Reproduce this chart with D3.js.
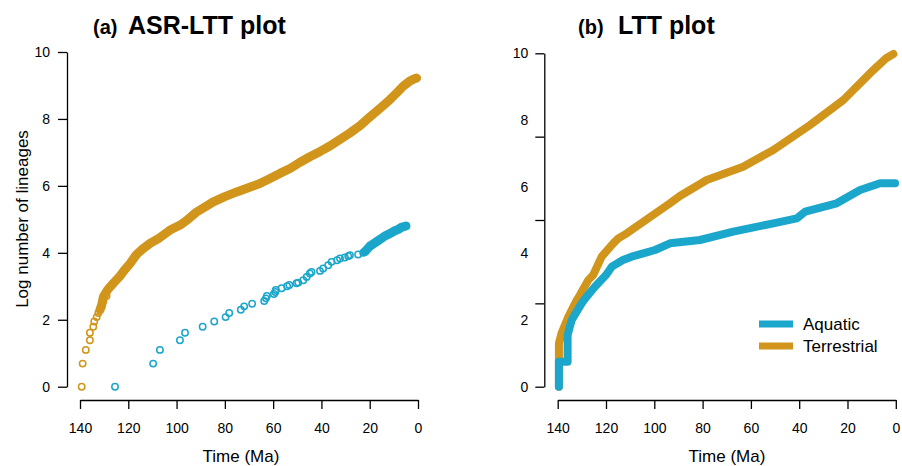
<!DOCTYPE html>
<html>
<head>
<meta charset="utf-8">
<script src="https://cdn.jsdelivr.net/npm/d3@7"></script>
<style>
  html, body { margin: 0; padding: 0; background: #fff; }
</style>
</head>
<body>
<div id="chart"></div>
<script>
// ticks
const ageTicks = [140, 120, 100, 80, 60, 40, 20, 0];
const logTicks = [0, 2, 4, 6, 8, 10];
const lttTickMarks = [0, 2.5, 5, 7.5, 10];
const legendLabels = ["Aquatic", "Terrestrial"];

// (a) ASR-LTT: terrestrial, single points then the dense run
const asrTerrTime = [139.3, 138.9, 137.6, 135.9, 135.9, 134.5, 134.1, 133.1, 132.4, 131.7, 131.0, 130.3, 129.0];
const asrTerrLog = [0, 0.69, 1.10, 1.39, 1.61, 1.79, 1.95, 2.08, 2.20, 2.30, 2.40, 2.56, 2.71];
const asrTerrBandTime = [131.7, 131.0, 130.3, 128.5, 126.2, 123.5, 121.4, 119.3, 116.6, 114.0, 111.0, 107.0, 102.7, 98.5, 95.8, 91.7, 88.0, 84.8, 80.0, 75.1, 70.0, 65.5, 61.3, 57.0, 53.0, 49.0, 44.8, 40.5, 36.5, 32.5, 28.2, 24.0, 19.9, 15.5, 11.6, 8.5, 6.1, 3.4, 1.5, 0.6];
const asrTerrBandLog = [2.30, 2.45, 2.69, 2.90, 3.09, 3.30, 3.50, 3.68, 3.95, 4.12, 4.28, 4.45, 4.68, 4.83, 4.97, 5.22, 5.38, 5.52, 5.68, 5.82, 5.95, 6.07, 6.22, 6.38, 6.52, 6.70, 6.87, 7.03, 7.19, 7.38, 7.58, 7.80, 8.06, 8.33, 8.58, 8.80, 8.98, 9.13, 9.20, 9.22];

// (a) ASR-LTT: aquatic
const asrAquaTime = [125.5, 109.7, 106.9, 98.6, 96.5, 89.2, 84.4, 79.7, 78.2, 73.4, 72.0, 68.7, 63.7, 63.0, 62.6, 59.7, 59.1, 58.9, 56.5, 54.2, 53.3, 50.3, 49.6, 47.5, 46.1, 44.8, 44.1, 40.6, 39.3, 37.2, 35.8, 33.5, 32.3, 30.3, 28.9, 28.2, 24.8, 22.7, 22.0, 19.9, 17.8, 15.8, 13.7, 11.6, 9.6, 8.2, 6.9, 5.0];
const asrAquaLog = [0, 0.69, 1.10, 1.39, 1.61, 1.79, 1.95, 2.08, 2.20, 2.30, 2.40, 2.48, 2.56, 2.64, 2.71, 2.77, 2.83, 2.89, 2.94, 3.00, 3.04, 3.09, 3.11, 3.18, 3.28, 3.38, 3.43, 3.46, 3.53, 3.63, 3.73, 3.78, 3.83, 3.86, 3.90, 3.93, 3.95, 4.00, 4.03, 4.20, 4.30, 4.40, 4.50, 4.58, 4.66, 4.70, 4.76, 4.80];
const asrAquaBandTime = [22.0, 19.9, 17.8, 15.8, 13.7, 11.6, 9.6, 8.2, 6.9, 5.0];
const asrAquaBandLog = [4.03, 4.20, 4.30, 4.40, 4.50, 4.58, 4.66, 4.70, 4.76, 4.80];

// (b) LTT
const lttTerrTime = [139.5, 139.5, 138.4, 135.6, 132.1, 130.8, 127.3, 125.3, 121.8, 117.0, 114.9, 111.4, 103.5, 93.5, 89.4, 78.3, 63.2, 50.7, 35.5, 21.7, 10.7, 4.0, 1.0];
const lttTerrLog = [0, 1.3, 1.6, 2.1, 2.6, 2.75, 3.2, 3.35, 3.9, 4.3, 4.45, 4.6, 5.0, 5.5, 5.72, 6.2, 6.6, 7.1, 7.85, 8.6, 9.4, 9.85, 9.98];
const lttAquaTime = [139.5, 139.5, 135.9, 135.9, 134.2, 130.1, 128.0, 124.6, 120.0, 117.6, 113.0, 109.4, 104.6, 99.7, 93.5, 81.1, 67.3, 50.7, 41.0, 37.5, 24.5, 14.8, 6.5, 0.3];
const lttAquaLog = [0, 0.75, 0.75, 1.55, 2.0, 2.5, 2.7, 3.0, 3.35, 3.6, 3.8, 3.9, 4.0, 4.1, 4.3, 4.4, 4.65, 4.9, 5.05, 5.25, 5.5, 5.9, 6.1, 6.1];

const colAqua = "#1ba6cb";
const colTerr = "#d0951a";
const FONT = "'Liberation Sans', Arial, Helvetica, sans-serif";

const width = 902;
const height = 466;

const xL = d3.scaleLinear().domain([140, 0]).range([80, 418]);
const yL = d3.scaleLinear().domain([0, 10]).range([386.7, 52]);
const xR = d3.scaleLinear().domain([140, 0]).range([557.7, 895.8]);
const yR = d3.scaleLinear().domain([0, 10]).range([386.7, 53.3]);

const svg = d3.select("#chart").append("svg")
    .attr("width", width)
    .attr("height", height)
    .style("font-family", FONT);

const styleAxis = g => {
    g.attr("font-size", 14).attr("font-family", FONT);
    g.selectAll("text").attr("fill", "#000");
    g.selectAll("line, path").attr("stroke", "#000").attr("stroke-width", 1.3);
};

const drawXAxis = x => {
    svg.append("g")
        .attr("transform", "translate(0,400)")
        .call(d3.axisBottom(x).tickValues(ageTicks).tickSize(9).tickPadding(14).tickSizeOuter(0))
        .call(styleAxis);
};

drawXAxis(xL);
drawXAxis(xR);

// left y axis
svg.append("g")
    .attr("transform", "translate(67,0)")
    .call(d3.axisLeft(yL).tickValues(logTicks).tickSize(9).tickPadding(8).tickSizeOuter(0))
    .call(styleAxis);

// right y axis: marks and labels do not sit at the same values
svg.append("g")
    .attr("transform", "translate(544.3,0)")
    .call(d3.axisLeft(yR).tickValues(lttTickMarks).tickSize(9).tickFormat("").tickSizeOuter(0))
    .call(styleAxis);
svg.append("g")
    .attr("transform", "translate(544.3,0)")
    .call(d3.axisLeft(yR).tickValues(logTicks).tickSize(0).tickPadding(16))
    .call(styleAxis)
    .call(g => g.select(".domain").remove());

// axis titles
[241, 727].forEach(cx => {
    svg.append("text")
        .attr("x", cx)
        .attr("y", 462)
        .attr("text-anchor", "middle")
        .attr("font-size", 17)
        .text("Time (Ma)");
});
svg.append("text")
    .attr("transform", "translate(28,219) rotate(-90)")
    .attr("text-anchor", "middle")
    .attr("font-size", 17)
    .text("Log number of lineages");

// panel titles
const title = (x1, lab, x2, txt) => {
    svg.append("text").attr("x", x1).attr("y", 34)
        .attr("font-size", 20).attr("font-weight", "bold").text(lab);
    svg.append("text").attr("x", x2).attr("y", 34)
        .attr("font-size", 25).attr("font-weight", "bold").text(txt);
};
title(93, "(a)", 128, "ASR-LTT plot");
title(578, "(b)", 618, "LTT plot");

// (a) points
const lineL = d3.line().x(d => xL(d[0])).y(d => yL(d[1]));

const band = (times, logs, col) => {
    svg.append("path")
        .datum(d3.zip(times, logs))
        .attr("d", lineL)
        .attr("fill", "none")
        .attr("stroke", col)
        .attr("stroke-width", 9)
        .attr("stroke-linecap", "round")
        .attr("stroke-linejoin", "round");
};
const rings = (times, logs, col) => {
    svg.append("g")
        .selectAll("circle")
        .data(d3.zip(times, logs))
        .join("circle")
        .attr("cx", d => xL(d[0]))
        .attr("cy", d => yL(d[1]))
        .attr("r", 3.2)
        .attr("fill", "none")
        .attr("stroke", col)
        .attr("stroke-width", 1.5);
};

band(asrTerrBandTime, asrTerrBandLog, colTerr);
rings(asrTerrTime, asrTerrLog, colTerr);
band(asrAquaBandTime, asrAquaBandLog, colAqua);
rings(asrAquaTime, asrAquaLog, colAqua);

// (b) lines
const lineR = d3.line().x(d => xR(d[0])).y(d => yR(d[1]));
[[lttTerrTime, lttTerrLog, colTerr], [lttAquaTime, lttAquaLog, colAqua]].forEach(s => {
    svg.append("path")
        .datum(d3.zip(s[0], s[1]))
        .attr("d", lineR)
        .attr("fill", "none")
        .attr("stroke", s[2])
        .attr("stroke-width", 8)
        .attr("stroke-linecap", "round")
        .attr("stroke-linejoin", "round");
});

// legend
const legend = svg.append("g").attr("transform", "translate(759,324)");
legendLabels.forEach((lab, i) => {
    legend.append("line")
        .attr("x1", 0).attr("x2", 34)
        .attr("y1", i * 22).attr("y2", i * 22)
        .attr("stroke", i === 0 ? colAqua : colTerr)
        .attr("stroke-width", 7);
    legend.append("text")
        .attr("x", 44)
        .attr("y", i * 22)
        .attr("dy", "0.35em")
        .attr("font-size", 17)
        .text(lab);
});
</script>
</body>
</html>
